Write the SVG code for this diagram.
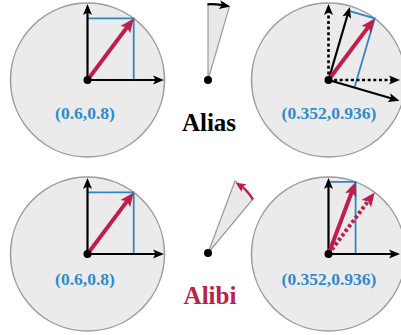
<svg xmlns="http://www.w3.org/2000/svg" width="401" height="335" viewBox="0 0 401 335">
<style>
.disk{fill:#ebebeb;stroke:#9c9c9c;stroke-width:1.5}
.ax{stroke:#000;stroke-width:2.2;fill:none;marker-end:url(#ah)}
.dot{stroke-dasharray:3 2.6;stroke-width:2.6}
.vec{stroke:#bf1d4d;stroke-width:4;fill:none;marker-end:url(#rh)}
.rdot{stroke-dasharray:3.2 2.4}
.blue{stroke:#2f86c6;stroke-width:1.8;fill:none}
.ctr{fill:#000}
.lab{font-weight:bold;font-size:17.5px;fill:#2f8bcc;text-anchor:middle}
.big{font-weight:bold;font-size:25px;text-anchor:middle}
.sector{fill:#e9e9e9;stroke:#9a9a9a;stroke-width:1.2}
</style>
<defs>
<marker id="ah" markerUnits="userSpaceOnUse" markerWidth="12" markerHeight="9" refX="3" refY="4.5" orient="auto" overflow="visible">
<path d="M0,0 L11,4.5 L0,9 L2.5,4.5 z" fill="#000"/>
</marker>
<marker id="rh" markerUnits="userSpaceOnUse" markerWidth="15" markerHeight="12" refX="4" refY="6" orient="auto" overflow="visible">
<path d="M0,0 L14,6 L0,12 L3,6 z" fill="#bf1d4d"/>
</marker>
<marker id="rs" markerUnits="userSpaceOnUse" markerWidth="11" markerHeight="9" refX="3" refY="4.5" orient="auto" overflow="visible">
<path d="M0,0 L10,4.5 L0,9 L2,4.5 z" fill="#bf1d4d"/>
</marker>
</defs>

<g id="alias-before">
<circle class="disk" cx="87.5" cy="80" r="77"/>
<path class="blue" d="M87.5,18.4 H133.7 V80"/>
<path class="ax" d="M87.5,80 H156"/>
<path class="ax" d="M87.5,80 V12"/>
<path class="vec" d="M87.5,80 L127.7,26.4"/>
<circle class="ctr" cx="87.5" cy="80" r="4"/>
<text class="lab" font-family="Liberation Serif, DejaVu Serif, serif" x="85" y="119">(0.6,0.8)</text>
</g>

<g id="alias-rotation">
<path class="sector" d="M208,80 L208,4 A76,76 0 0 1 229.3,7 Z"/>
<path class="ax" d="M207.5,4.3 Q215,3.9 222.5,5.2"/>
<circle class="ctr" cx="208" cy="80" r="4"/>
</g>

<g id="alias-after">
<circle class="disk" cx="328.5" cy="80" r="77"/>
<path class="blue" d="M348.7,10.8 L374.7,18.4 L354.5,87.6"/>
<path class="ax dot" d="M328.5,80 H392"/>
<path class="ax dot" d="M328.5,80 V12"/>
<path class="ax" d="M328.5,80 L347.6,14.7"/>
<path class="ax" d="M328.5,80 L391.8,98.5"/>
<path class="vec" d="M328.5,80 L368.7,26.4"/>
<circle class="ctr" cx="328.5" cy="80" r="4"/>
<text class="lab" font-family="Liberation Serif, DejaVu Serif, serif" x="329" y="119">(0.352,0.936)</text>
</g>

<text id="alias-title" class="big" font-family="Liberation Serif, DejaVu Serif, serif" x="209" y="131" fill="#000">Alias</text>

<g id="alibi-before">
<circle class="disk" cx="87.5" cy="254" r="77"/>
<path class="blue" d="M87.5,192.4 H133.7 V254"/>
<path class="ax" d="M87.5,254 H156"/>
<path class="ax" d="M87.5,254 V186"/>
<path class="vec" d="M87.5,254 L127.7,200.4"/>
<circle class="ctr" cx="87.5" cy="254" r="4"/>
<text class="lab" font-family="Liberation Serif, DejaVu Serif, serif" x="85" y="285">(0.6,0.8)</text>
</g>

<g id="alibi-rotation">
<path class="sector" d="M208,253 L253,199 Q245,187 235,181 Z"/>
<path d="M253,199.5 Q247,190 241.5,186.5" fill="none" stroke="#bf1d4d" stroke-width="2.4" marker-end="url(#rs)"/>
<circle class="ctr" cx="208" cy="253" r="4"/>
</g>

<g id="alibi-after">
<circle class="disk" cx="328.5" cy="254" r="77"/>
<path class="blue" d="M328.5,181.9 H355.6 V254"/>
<path class="ax" d="M328.5,254 H392"/>
<path class="ax" d="M328.5,254 V186"/>
<path class="vec rdot" d="M328.5,254 L368.7,200.4"/>
<path class="vec" d="M328.5,254 L352.1,191.3"/>
<circle class="ctr" cx="328.5" cy="254" r="4"/>
<text class="lab" font-family="Liberation Serif, DejaVu Serif, serif" x="329" y="285">(0.352,0.936)</text>
</g>

<text id="alibi-title" class="big" font-family="Liberation Serif, DejaVu Serif, serif" x="210" y="304" fill="#bc1f4e">Alibi</text>
</svg>
